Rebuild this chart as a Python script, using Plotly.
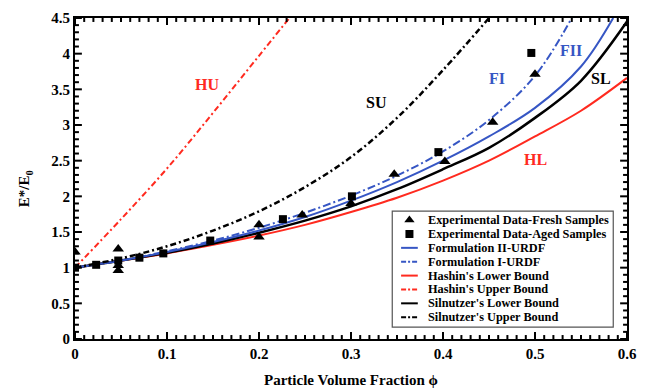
import numpy as np
import plotly.graph_objects as go

# ---------------- data ----------------
phi_HL = [0, 0.05, 0.1, 0.15, 0.2, 0.25, 0.3, 0.35, 0.4, 0.45, 0.5, 0.55, 0.6]
E_HL = [1, 1.1, 1.2, 1.32, 1.45, 1.6, 1.78, 1.98, 2.22, 2.5, 2.84, 3.2, 3.66]

phi_SL = [0, 0.05, 0.1, 0.15, 0.2, 0.25, 0.3, 0.35, 0.4, 0.45, 0.5, 0.55, 0.6]
E_SL = [1, 1.1, 1.21, 1.34, 1.49, 1.66, 1.86, 2.1, 2.38, 2.68, 3.1, 3.62, 4.45]

phi_FII = [0, 0.05, 0.1, 0.15, 0.2, 0.25, 0.3, 0.35, 0.4, 0.45, 0.5, 0.55, 0.585]
E_FII = [1, 1.1, 1.22, 1.36, 1.52, 1.71, 1.94, 2.2, 2.5, 2.84, 3.24, 3.82, 4.5]

phi_FI = [0, 0.05, 0.1, 0.15, 0.2, 0.25, 0.3, 0.35, 0.4, 0.45, 0.5, 0.54]
E_FI = [1, 1.1, 1.23, 1.38, 1.56, 1.77, 2.01, 2.29, 2.63, 3.07, 3.69, 4.5]

phi_SU = [0, 0.05, 0.1, 0.15, 0.2, 0.25, 0.3, 0.35, 0.4, 0.45]
E_SU = [1, 1.13, 1.3, 1.52, 1.79, 2.13, 2.55, 3.1, 3.77, 4.5]

phi_HU = [0, 0.05, 0.1, 0.15, 0.2, 0.233]
E_HU = [1, 1.68, 2.39, 3.17, 3.97, 4.5]

phi_fresh = [0, 0.047, 0.047, 0.047, 0.2, 0.2, 0.247, 0.3, 0.347, 0.402, 0.454, 0.5]
E_fresh = [1.22, 1.26, 1.03, 0.96, 1.6, 1.43, 1.74, 1.9, 2.31, 2.49, 3.04, 3.71]

phi_aged = [0, 0.023, 0.047, 0.07, 0.096, 0.147, 0.226, 0.301, 0.395, 0.496]
E_aged = [1.0, 1.04, 1.1, 1.14, 1.2, 1.38, 1.68, 2.0, 2.62, 4.01]

x_ticks = [0, 0.1, 0.2, 0.3, 0.4, 0.5, 0.6]
x_ticktext = ["0", "0.1", "0.2", "0.3", "0.4", "0.5", "0.6"]
y_ticks = [0, 0.5, 1, 1.5, 2, 2.5, 3, 3.5, 4, 4.5]
y_ticktext = ["0", "0.5", "1", "1.5", "2", "2.5", "3", "3.5", "4", "4.5"]
x_minor_step = 0.01
y_minor_step = 0.1

legend_names = [
    "Experimental Data-Fresh Samples",
    "Experimental Data-Aged Samples",
    "Formulation II-URDF",
    "Formulation I-URDF",
    "Hashin's Lower Bound",
    "Hashin's Upper Bound",
    "Silnutzer's Lower Bound",
    "Silnutzer's Upper Bound",
]

curve_labels = ["HU", "SU", "FI", "FII", "SL", "HL"]
label_pos_x = [0.143, 0.328, 0.459, 0.539, 0.572, 0.5]
label_pos_y = [3.57, 3.32, 3.65, 4.04, 3.65, 2.51]

x_title = "Particle Volume Fraction ϕ"
y_title = "E*/E<sub>0</sub>"

# ---------------- styles / layout geometry ----------------
W, H = 647, 392
L, R, T, B = 75, 10, 15, 53
X0, X1 = 0, 0.6
Y0, Y1 = 0, 4.5
RED = "#ff2a1f"
BLUE = "#3656c4"
BLACK = "#000000"
FONT = "Liberation Serif, Times New Roman, serif"
DASHDOT_BLK = "6px,3px,2px,3px"
DASHDOT_RED = "6px,3px,2px,3px"
DASHDOT_BLU = "8px,3px,2px,3px"

pw, ph = W - L - R, H - T - B


def px2x(px):
    return X0 + (px - L) / pw * (X1 - X0)


def py2y(py):
    return Y0 + (H - B - py) / ph * (Y1 - Y0)


def px2paper(px):
    return (px - L) / pw


def py2paper(py):
    return (H - B - py) / ph


def bold(s):
    return "<b>" + s + "</b>"


fig = go.Figure()

# ---------------- inward ticks on all four sides (derived from the axis tick arrays) ----------------
MAJ_PX, MIN_PX = 7, 4
dx_per_px = (X1 - X0) / pw
dy_per_px = (Y1 - Y0) / ph
x_minor = [float(v) for v in np.round(np.arange(X0, X1 + 1e-9, x_minor_step), 4)]
y_minor = [float(v) for v in np.round(np.arange(Y0, Y1 + 1e-9, y_minor_step), 4)]
for v in x_minor:
    ln = (MAJ_PX if any(abs(v - m) < 1e-6 for m in x_ticks) else MIN_PX) * dy_per_px
    fig.add_shape(type="line", xref="x", yref="y", x0=v, x1=v, y0=Y0, y1=Y0 + ln,
                  line=dict(color=BLACK, width=2), layer="above")
    fig.add_shape(type="line", xref="x", yref="y", x0=v, x1=v, y0=Y1, y1=Y1 - ln,
                  line=dict(color=BLACK, width=2), layer="above")
for v in y_minor:
    ln = (MAJ_PX if any(abs(v - m) < 1e-6 for m in y_ticks) else MIN_PX) * dx_per_px
    fig.add_shape(type="line", xref="x", yref="y", x0=X0, x1=X0 + ln, y0=v, y1=v,
                  line=dict(color=BLACK, width=2), layer="above")
    fig.add_shape(type="line", xref="x", yref="y", x0=X1, x1=X1 - ln, y0=v, y1=v,
                  line=dict(color=BLACK, width=2), layer="above")

curves = [
    (phi_HL, E_HL, RED, "solid", 2),
    (phi_SL, E_SL, BLACK, "solid", 2.5),
    (phi_FII, E_FII, BLUE, "solid", 2),
    (phi_FI, E_FI, BLUE, DASHDOT_BLU, 2),
    (phi_SU, E_SU, BLACK, DASHDOT_BLK, 2.5),
    (phi_HU, E_HU, RED, DASHDOT_RED, 2),
]
for xs, ys, col, dash, w in curves:
    fig.add_trace(go.Scatter(x=xs, y=ys, mode="lines",
                             line=dict(color=col, dash=dash, width=w, shape="spline", smoothing=1.0),
                             showlegend=False, hoverinfo="skip"))

fig.add_trace(go.Scatter(x=phi_fresh, y=E_fresh, mode="markers",
                         marker=dict(symbol="triangle-up", size=10, color=BLACK), showlegend=False))
fig.add_trace(go.Scatter(x=phi_aged, y=E_aged, mode="markers",
                         marker=dict(symbol="square", size=8, color=BLACK), showlegend=False))

# curve labels
label_colors = [RED, BLACK, BLUE, BLUE, BLACK, RED]
for t, lx, ly, c in zip(curve_labels, label_pos_x, label_pos_y, label_colors):
    fig.add_annotation(x=lx, y=ly, text=bold(t), showarrow=False, xanchor="center", yanchor="middle",
                       font=dict(family=FONT, size=16, color=c))

# ---------------- manual legend ----------------
leg_x0, leg_x1, leg_y0, leg_y1 = 398, 623, 210, 327
fig.add_shape(type="rect", xref="paper", yref="paper",
              x0=px2paper(leg_x0), x1=px2paper(leg_x1), y0=py2paper(leg_y1), y1=py2paper(leg_y0),
              line=dict(color="#555555", width=1.2), fillcolor="white", layer="below")
leg_styles = [
    ("marker", "triangle-up", BLACK, None),
    ("marker", "square", BLACK, None),
    ("line", None, BLUE, "solid"),
    ("line", None, BLUE, "5px,2px,2px,2px"),
    ("line", None, RED, "solid"),
    ("line", None, RED, "5px,2px,2px,2px"),
    ("line", None, BLACK, "solid"),
    ("line", None, BLACK, "5px,2px,2px,2px"),
]
row_y0, row_step = 219, 14
for i, (name, (kind, sym, col, dash)) in enumerate(zip(legend_names, leg_styles)):
    ry = row_y0 + i * row_step
    if kind == "marker":
        fig.add_trace(go.Scatter(x=[px2x(415.5)], y=[py2y(ry)], mode="markers",
                                 marker=dict(symbol=sym, size=9 if sym == "triangle-up" else 8, color=col),
                                 showlegend=False, hoverinfo="skip"))
    else:
        fig.add_shape(type="line", xref="paper", yref="paper",
                      x0=px2paper(407), x1=px2paper(424), y0=py2paper(ry), y1=py2paper(ry),
                      line=dict(color=col, width=2, dash=dash), layer="above")
    fig.add_annotation(x=px2paper(432), y=py2paper(ry), xref="paper", yref="paper", text=bold(name),
                       showarrow=False, xanchor="left", yanchor="middle",
                       font=dict(family=FONT, size=12.3, color=BLACK))

# axis titles
fig.add_annotation(x=px2paper(356), y=py2paper(380), xref="paper", yref="paper", text=bold(x_title),
                   showarrow=False, xanchor="center", yanchor="middle",
                   font=dict(family=FONT, size=15, color=BLACK))
fig.add_annotation(x=px2paper(25), y=py2paper(187), xref="paper", yref="paper", text=bold(y_title),
                   showarrow=False, textangle=-90, xanchor="center", yanchor="middle",
                   font=dict(family=FONT, size=15, color=BLACK))

fig.update_layout(
    width=W, height=H,
    margin=dict(l=L, r=R, t=T, b=B),
    paper_bgcolor="white", plot_bgcolor="white",
    showlegend=False,
    xaxis=dict(range=[X0, X1], tickmode="array", tickvals=x_ticks, ticktext=[bold(t) for t in x_ticktext],
               showline=True, linecolor=BLACK, linewidth=2, mirror=True, ticks="",
               showgrid=False, zeroline=False,
               tickfont=dict(family=FONT, size=15, color=BLACK)),
    yaxis=dict(range=[Y0, Y1], tickmode="array", tickvals=y_ticks, ticktext=[bold(t) for t in y_ticktext],
               showline=True, linecolor=BLACK, linewidth=2, mirror=True, ticks="",
               showgrid=False, zeroline=False,
               tickfont=dict(family=FONT, size=15, color=BLACK)),
)

fig.write_html("out.html")
